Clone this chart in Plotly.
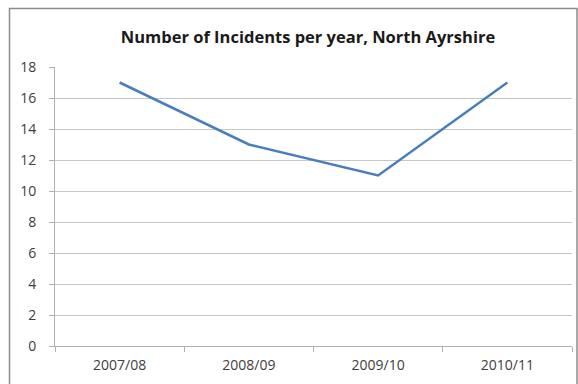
import plotly.graph_objects as go

years = ["2007/08", "2008/09", "2009/10", "2010/11"]
incidents = [17, 13, 11, 17]
y_ticks = [0, 2, 4, 6, 8, 10, 12, 14, 16, 18]

W, H = 578, 384
L, R, T, B = 55, 6, 67, 38
pw, ph = W - L - R, H - T - B

fig = go.Figure()
fig.add_trace(go.Scatter(
    x=years, y=incidents, mode="lines",
    line=dict(color="#4a7ebb", width=2.5),
    showlegend=False,
))

def px_x(p):
    return (p - L) / pw

def px_y(p):
    return (H - B - p) / ph

fig.add_shape(type="rect", xref="paper", yref="paper",
              x0=px_x(9.5), x1=px_x(577), y0=px_y(8.5), y1=px_y(390),
              line=dict(color="#8c8c8c", width=1.5), layer="below")

fig.update_layout(
    width=W, height=H,
    margin=dict(l=L, r=R, t=T, b=B),
    paper_bgcolor="white", plot_bgcolor="white",
    title=dict(text="<b>Number of Incidents per year, North Ayrshire</b>",
               x=px_x(308), xanchor="center", xref="paper",
               y=1 - 37 / H, yanchor="middle",
               font=dict(family="Open Sans", size=16.5, color="#1a1a1a")),
    font=dict(family="Open Sans", size=14, color="#404040"),
)
fig.update_xaxes(
    type="category", tickson="boundaries",
    showgrid=False, showline=True, linecolor="#b0b0b0", linewidth=1,
    ticks="outside", ticklen=5, tickcolor="#b0b0b0",
    tickfont=dict(size=14, color="#404040"),
    ticklabelstandoff=6,
    range=[-0.5, 3.5],
)
fig.update_yaxes(
    range=[0, 18], tickvals=y_ticks, ticktext=[str(v) for v in y_ticks],
    showgrid=True, gridcolor="#c6c6c6", gridwidth=1,
    showline=True, linecolor="#b0b0b0", linewidth=1,
    ticks="outside", ticklen=5, tickcolor="#b0b0b0",
    tickfont=dict(size=14, color="#404040"),
    ticklabelstandoff=10,
    zeroline=False,
)

fig.write_html("out.html")
